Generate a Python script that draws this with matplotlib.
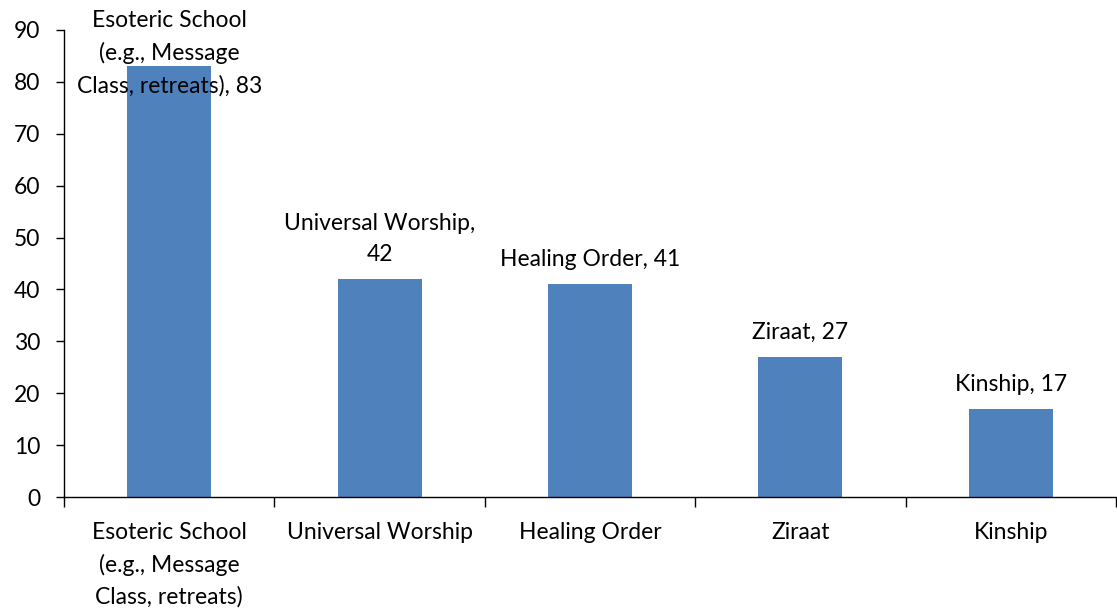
import matplotlib.pyplot as plt
import numpy as np

# data
categories = ["Esoteric School\n(e.g., Message\nClass, retreats)", "Universal Worship",
              "Healing Order", "Ziraat", "Kinship"]
values = [83, 42, 41, 27, 17]
bar_labels = ["Esoteric School\n(e.g., Message\nClass, retreats), 83", "Universal Worship,\n42",
              "Healing Order, 41", "Ziraat, 27", "Kinship, 17"]
yticks = list(range(0, 91, 10))

plt.rcParams['font.family'] = ['Lato', 'DejaVu Sans']
fs = 16.5
ls = 1.6

fig = plt.figure(figsize=(11.17, 6.13), dpi=100)
ax = fig.add_axes([64 / 1117, 1 - 497 / 613, 1 - 64 / 1117 - 1 / 1117, (497 - 30) / 613])

x = np.arange(len(categories))
ax.bar(x, values, width=0.40, color='#4F81BD', zorder=2)

ax.set_xlim(-0.5, len(categories) - 0.5)
ax.set_ylim(0, 90)
ax.set_yticks(yticks)
ax.tick_params(axis='y', labelsize=fs, length=6, width=1, direction='out', pad=11)

# category labels centred, tick marks on the boundaries
ax.set_xticks(x)
ax.set_xticklabels(categories, fontsize=fs, linespacing=ls, va='top')
ax.tick_params(axis='x', which='major', length=0, pad=18)
ax.set_xticks(np.arange(-0.5, len(categories), 1.0), minor=True)
ax.tick_params(axis='x', which='minor', length=7, width=1, direction='out')

for side in ['top', 'right']:
    ax.spines[side].set_visible(False)
for side in ['left', 'bottom']:
    ax.spines[side].set_linewidth(1)
    ax.spines[side].set_color('black')

# data labels (first one pushed down so it stays inside the figure)
offsets = [-30, 14, 14, 14, 14]
for i, v in enumerate(values):
    ax.annotate(bar_labels[i], (x[i], v), xytext=(0, offsets[i]), textcoords='offset pixels',
                ha='center', va='bottom', fontsize=fs, linespacing=ls, annotation_clip=False)

plt.savefig('out.png', dpi=100)
